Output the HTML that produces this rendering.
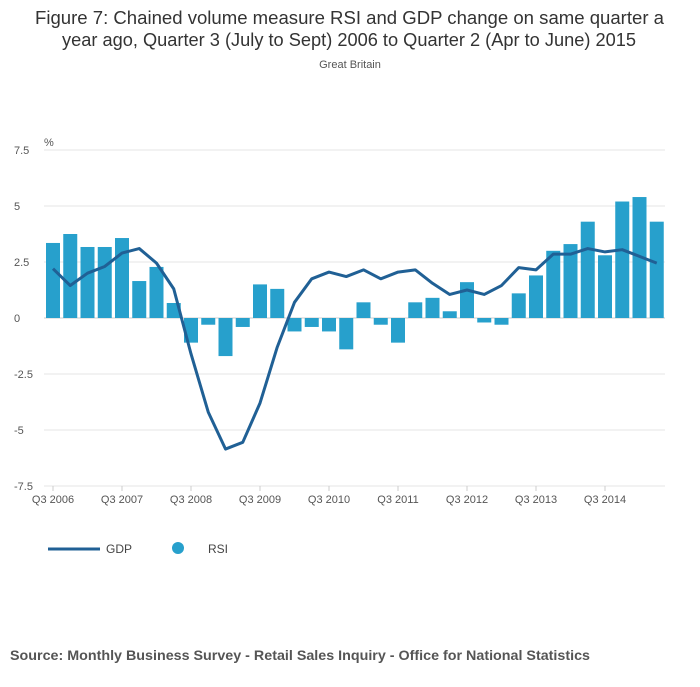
<!DOCTYPE html>
<html><head><meta charset="utf-8"><style>
body{margin:0;background:#fff;font-family:"Liberation Sans",sans-serif;}
</style></head><body>
<svg width="700" height="682" viewBox="0 0 700 682" xmlns="http://www.w3.org/2000/svg">
<text x="35" y="24" textLength="629" lengthAdjust="spacingAndGlyphs" font-size="18" fill="#333">Figure 7: Chained volume measure RSI and GDP change on same quarter a</text>
<text x="62" y="46" textLength="574" lengthAdjust="spacingAndGlyphs" font-size="18" fill="#333">year ago, Quarter 3 (July to Sept) 2006 to Quarter 2 (Apr to June) 2015</text>
<text x="350" y="68" text-anchor="middle" font-size="11" fill="#555">Great Britain</text>
<text x="44" y="146" font-size="11" fill="#555">%</text>
<g id="grid"></g><g id="bars"></g><g id="line"></g><g id="xt"></g>
<g>
<line x1="48" y1="549" x2="100" y2="549" stroke="#206095" stroke-width="3"/>
<text x="106" y="553" font-size="12" fill="#444">GDP</text>
<circle cx="178" cy="548" r="6" fill="#27a0cc"/>
<text x="208" y="553" font-size="12" fill="#444">RSI</text>
</g>
<text x="10" y="660" textLength="580" lengthAdjust="spacingAndGlyphs" font-size="14" font-weight="bold" fill="#555">Source: Monthly Business Survey - Retail Sales Inquiry - Office for National Statistics</text>
</svg>
<script>
const rsi=[3.35,3.75,3.17,3.17,3.57,1.65,2.28,0.67,-1.1,-0.3,-1.7,-0.4,1.5,1.3,-0.6,-0.4,-0.6,-1.4,0.7,-0.3,-1.1,0.7,0.9,0.3,1.6,-0.2,-0.3,1.1,1.9,3.0,3.3,4.3,2.8,5.2,5.4,4.3];
const gdp=[2.2,1.45,2.0,2.3,2.9,3.1,2.45,1.3,-1.6,-4.2,-5.85,-5.55,-3.8,-1.3,0.7,1.75,2.05,1.85,2.15,1.75,2.05,2.15,1.55,1.05,1.25,1.05,1.45,2.25,2.15,2.85,2.85,3.1,2.95,3.05,2.75,2.45];
const yTicks=[7.5,5,2.5,0,-2.5,-5,-7.5];
const yTickLabels=["7.5","5","2.5","0","-2.5","-5","-7.5"];
const xLabels=["Q3 2006","Q3 2007","Q3 2008","Q3 2009","Q3 2010","Q3 2011","Q3 2012","Q3 2013","Q3 2014"];
const NS="http://www.w3.org/2000/svg";
const y=v=>318-v*22.4;
const x=i=>53+i*17.25;
function mk(t,a,p){const e=document.createElementNS(NS,t);for(const k in a)e.setAttribute(k,a[k]);document.getElementById(p).appendChild(e);return e;}
yTicks.forEach((v,i)=>{
 const l=mk('line',{x1:44,x2:665,y1:y(v),y2:y(v),stroke:v===0?'#ccc':'#e6e6e6','stroke-width':1},'grid');
 
 
 const t=mk('text',{x:14,y:y(v)+4,'font-size':11,fill:'#555'},'grid');t.textContent=yTickLabels[i];
 
 
});
rsi.forEach((v,i)=>{
 const r=mk('rect',{x:x(i)-7,width:14,y:Math.min(y(v),y(0)),height:Math.abs(y(v)-y(0)),fill:'#27a0cc'},'bars');
 
 
});
const p=mk('polyline',{points:gdp.map((v,i)=>x(i)+','+y(v)).join(' '),fill:'none',stroke:'#206095','stroke-width':3,'stroke-linejoin':'round'},'line');


xLabels.forEach((s,k)=>{
 const i=k*4;
 const tk=mk('line',{x1:x(i),x2:x(i),y1:486,y2:491,stroke:'#ccc'},'xt');
 
 
 const t=mk('text',{x:x(i),y:503,'font-size':11,fill:'#555','text-anchor':'middle'},'xt');t.textContent=s;
 
 
});
</script>
</body></html>
